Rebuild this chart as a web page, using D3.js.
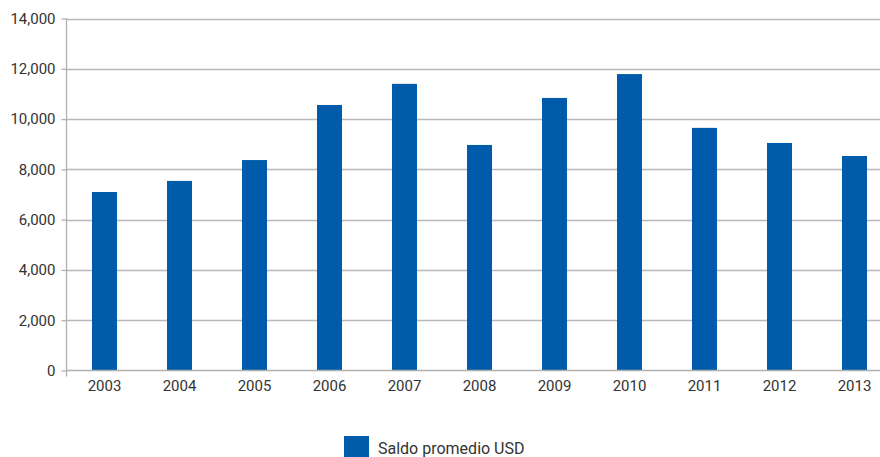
<!DOCTYPE html>
<html>
<head>
<meta charset="utf-8">
<script src="https://cdn.jsdelivr.net/npm/d3@7/dist/d3.min.js"></script>
<style>
  html, body { margin: 0; padding: 0; background: #fff; overflow: hidden; }
  svg { display: block; }
  text { font-family: Roboto, "Open Sans", sans-serif; fill: #333; }
</style>
</head>
<body>
<svg id="chart" width="880" height="457"></svg>
<script>
// Average balance per year, USD
const years = ["2003","2004","2005","2006","2007","2008","2009","2010","2011","2012","2013"];
const saldoPromedio = [7100, 7540, 8370, 10560, 11400, 8970, 10840, 11790, 9650, 9050, 8530];
const yTicks = [0, 2000, 4000, 6000, 8000, 10000, 12000, 14000];
const seriesName = "Saldo promedio USD";

const svg = d3.select("#chart");
const plotLeft = 66.5, plotRight = 891.5, plotTop = 18.5, plotBottom = 370.5;

const x = d3.scaleBand().domain(years).range([plotLeft + 0.5, plotRight + 0.5]).paddingInner(2/3).paddingOuter(1/3);
const y = d3.scaleLinear().domain([0, 14000]).range([plotBottom, plotTop]);

const fmt = d3.format(",");

// horizontal gridlines
svg.append("g")
  .selectAll("line")
  .data(yTicks.filter(d => d > 0))
  .join("line")
  .attr("x1", plotLeft).attr("x2", 880)
  .attr("y1", d => Math.round(y(d)) + 0.5).attr("y2", d => Math.round(y(d)) + 0.5)
  .attr("stroke", "#b8b8b8").attr("stroke-width", 1.3);

// bars
svg.append("g")
  .selectAll("rect")
  .data(years.map((k, i) => ({ k, v: saldoPromedio[i] })))
  .join("rect")
  .attr("x", d => x(d.k))
  .attr("width", x.bandwidth())
  .attr("y", d => y(d.v))
  .attr("height", d => y(0) - y(d.v))
  .attr("fill", "#005baa");

// y axis
const yAxis = svg.append("g")
  .attr("transform", `translate(${plotLeft},0)`)
  .call(d3.axisLeft(y).tickValues(yTicks).tickFormat(fmt).tickSize(5).tickPadding(6));
yAxis.select(".domain").attr("stroke", "#b0b0b0").attr("stroke-width", 1.3)
  .attr("d", `M0,${plotTop}V${plotBottom + 6}`);
yAxis.selectAll(".tick line").attr("stroke", "#b0b0b0").attr("stroke-width", 1.3);
yAxis.selectAll(".tick text").style("font-size", "15px").attr("fill", "#333");

// x axis
const xAxis = svg.append("g")
  .attr("transform", `translate(0,${plotBottom})`)
  .call(d3.axisBottom(x).tickSize(0).tickPadding(10));
xAxis.select(".domain").attr("stroke", "#b0b0b0").attr("stroke-width", 1.3)
  .attr("d", `M${plotLeft},0H880`);
xAxis.selectAll(".tick text").style("font-size", "15px").attr("fill", "#333");

// legend
const legend = svg.append("g").attr("transform", "translate(344,436)");
legend.append("rect").attr("width", 25).attr("height", 25).attr("fill", "#005baa");
legend.append("text").attr("x", 34).attr("y", 18).style("font-size", "16px").text(seriesName);
</script>
</body>
</html>
